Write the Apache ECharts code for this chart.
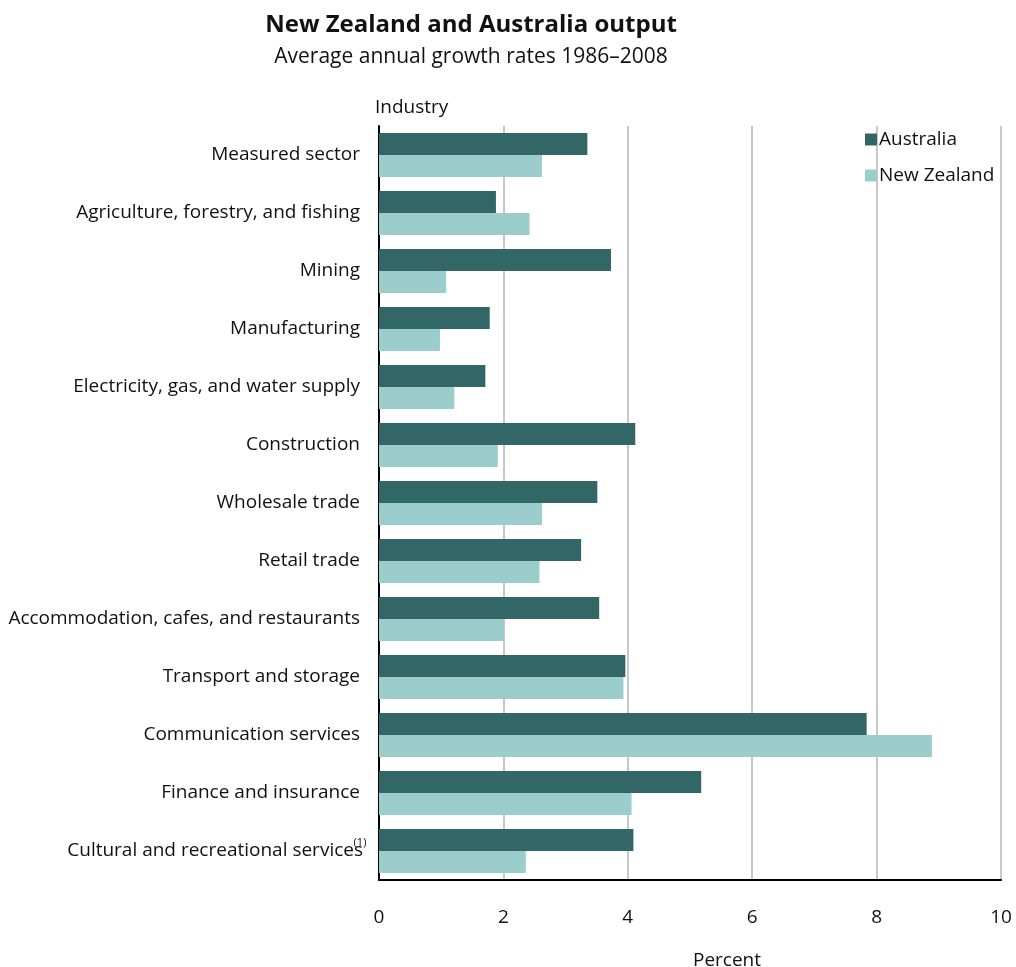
<!DOCTYPE html>
<html>
<head>
<meta charset="utf-8">
<script src="https://cdn.jsdelivr.net/npm/echarts@6/dist/echarts.min.js"></script>
<style>
  html, body { margin: 0; padding: 0; background: #fff; }
  #chart { width: 1016px; height: 967px; }
</style>
</head>
<body>
<div id="chart"></div>
<script>
// Industries, top to bottom
const industries = [
  'Measured sector',
  'Agriculture, forestry, and fishing',
  'Mining',
  'Manufacturing',
  'Electricity, gas, and water supply',
  'Construction',
  'Wholesale trade',
  'Retail trade',
  'Accommodation, cafes, and restaurants',
  'Transport and storage',
  'Communication services',
  'Finance and insurance',
  'Cultural and recreational services'
];

// Average annual output growth, percent
const australia = [3.35, 1.88, 3.73, 1.78, 1.71, 4.12, 3.51, 3.25, 3.54, 3.96, 7.84, 5.18, 4.09];
const newZealand = [2.62, 2.42, 1.08, 0.98, 1.21, 1.91, 2.62, 2.58, 2.01, 3.93, 8.89, 4.06, 2.36];

const xTicks = [0, 2, 4, 6, 8, 10];

const FONT = '"Open Sans", "Noto Sans", sans-serif';
const TEXT = '#111';
const SIZE = 19;

const chart = echarts.init(document.getElementById('chart'));
chart.setOption({
  backgroundColor: '#fff',
  animation: false,
  title: {
    text: 'New Zealand and Australia output',
    subtext: 'Average annual growth rates 1986\u20132008',
    left: 466,
    top: 8,
    textAlign: 'center',
    itemGap: 10,
    textStyle: { fontFamily: FONT, fontSize: 24, fontWeight: 'bold', color: TEXT },
    subtextStyle: { fontFamily: FONT, fontSize: 21, color: TEXT }
  },
  legend: {
    orient: 'vertical',
    left: 860,
    top: 125,
    itemWidth: 12,
    itemHeight: 12,
    itemGap: 17,
    icon: 'rect',
    textStyle: { fontFamily: FONT, fontSize: SIZE, color: TEXT, padding: [0, 0, 0, -3] },
    data: ['Australia', 'New Zealand']
  },
  grid: { left: 379, right: 15, top: 126, bottom: 87, outerBoundsMode: 'none', containLabel: false },
  xAxis: {
    type: 'value',
    min: 0,
    max: 10,
    interval: 2,
    name: 'Percent',
    nameLocation: 'middle',
    nameGap: 71,
    nameTextStyle: { fontFamily: FONT, fontSize: SIZE, color: TEXT, padding: [0, 0, 0, 74] },
    axisLine: { show: true, lineStyle: { color: '#000', width: 2 } },
    axisTick: { show: false },
    axisLabel: {
      fontFamily: FONT, fontSize: SIZE, color: TEXT, margin: 28,
      formatter: v => (xTicks.indexOf(v) >= 0 ? String(v) : '')
    },
    splitLine: { show: true, lineStyle: { color: '#c8c8c8', width: 2 } }
  },
  yAxis: {
    type: 'category',
    inverse: true,
    data: industries,
    name: 'Industry',
    nameLocation: 'start',
    nameGap: 9,
    nameTextStyle: { fontFamily: FONT, fontSize: SIZE, color: TEXT, align: 'left', padding: [0, 0, 0, -4] },
    axisLine: { show: true, lineStyle: { color: '#000', width: 2 } },
    axisTick: { show: false },
    axisLabel: {
      fontFamily: FONT, fontSize: SIZE, color: TEXT, margin: 19,
      formatter: v => (v === 'Cultural and recreational services' ? v + '{sup|(1)}' : v),
      rich: {
        sup: { fontFamily: FONT, fontSize: 11, color: TEXT, width: 0, align: 'left', verticalAlign: 'top', padding: [0, 0, 16, -3] }
      }
    }
  },
  series: [
    {
      name: 'Australia',
      type: 'bar',
      data: australia,
      barGap: '0%',
      barCategoryGap: '24%',
      itemStyle: { color: '#336767' }
    },
    {
      name: 'New Zealand',
      type: 'bar',
      data: newZealand,
      itemStyle: { color: '#9bcdcd' }
    }
  ]
});
</script>
</body>
</html>
